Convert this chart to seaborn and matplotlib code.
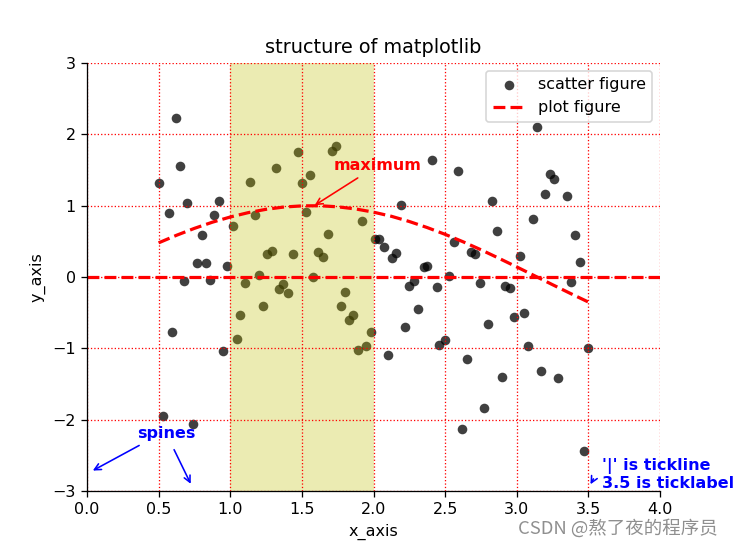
import numpy as np
import matplotlib
matplotlib.use("Agg")
import matplotlib.pyplot as plt
import seaborn as sns

# scatter data
scatter_x = [0.50, 0.53, 0.57, 0.59, 0.62, 0.65, 0.68, 0.70, 0.74, 0.77,
             0.80, 0.83, 0.86, 0.89, 0.92, 0.95, 0.98, 1.02, 1.05, 1.07,
             1.10, 1.14, 1.17, 1.20, 1.23, 1.26, 1.29, 1.32, 1.34, 1.37,
             1.40, 1.44, 1.47, 1.50, 1.53, 1.56, 1.58, 1.61, 1.65, 1.68,
             1.71, 1.74, 1.77, 1.80, 1.83, 1.86, 1.89, 1.92, 1.95, 1.98,
             2.01, 2.04, 2.07, 2.10, 2.13, 2.16, 2.19, 2.22, 2.25, 2.28,
             2.31, 2.35, 2.37, 2.41, 2.44, 2.46, 2.50, 2.53, 2.56, 2.59,
             2.62, 2.65, 2.68, 2.71, 2.74, 2.77, 2.80, 2.83, 2.86, 2.90,
             2.92, 2.95, 2.98, 3.02, 3.05, 3.08, 3.11, 3.14, 3.17, 3.20,
             3.23, 3.26, 3.29, 3.35, 3.38, 3.41, 3.44, 3.47, 3.50]
scatter_y = [1.32, -1.95, 0.90, -0.77, 2.23, 1.56, -0.06, 1.04, -2.06, 0.20,
             0.59, 0.20, -0.04, 0.87, 1.07, -1.04, 0.15, 0.72, -0.87, -0.53,
             -0.08, 1.33, 0.87, 0.03, -0.41, 0.32, 0.36, 1.53, -0.17, -0.10,
             -0.23, 0.32, 1.75, 1.32, 0.91, 1.43, 0.00, 0.35, 0.28, 0.60,
             1.77, 1.84, -0.41, -0.21, -0.60, -0.53, -1.02, 0.79, -0.97, -0.77,
             0.53, 0.53, 0.42, -1.09, 0.27, 0.34, 1.01, -0.70, -0.13, -0.06,
             -0.45, 0.14, 0.15, 1.64, -0.14, -0.95, -0.88, 0.01, 0.49, 1.48,
             -2.13, -1.15, 0.35, 0.32, -0.08, -1.84, -0.66, 1.07, 0.64, -1.40,
             -0.13, -0.16, -0.56, 0.29, -0.50, -0.97, 0.82, 2.10, -1.32, 1.17,
             1.45, 1.37, -1.42, 1.13, -0.07, 0.59, 0.21, -2.44, -1.00]

# curve data
curve_x = [0.5, 0.625, 0.75, 0.875, 1.0, 1.125, 1.25, 1.375, 1.5, 1.625,
           1.75, 1.875, 2.0, 2.125, 2.25, 2.375, 2.5, 2.625, 2.75, 2.875,
           3.0, 3.125, 3.25, 3.375, 3.5]
curve_y = [0.479, 0.585, 0.682, 0.768, 0.841, 0.902, 0.949, 0.981, 0.997, 0.999,
           0.984, 0.954, 0.909, 0.851, 0.778, 0.693, 0.598, 0.494, 0.382, 0.263,
           0.141, 0.017, -0.108, -0.231, -0.351]

x_ticks = [0.0, 0.5, 1.0, 1.5, 2.0, 2.5, 3.0, 3.5, 4.0]
y_ticks = [-3, -2, -1, 0, 1, 2, 3]

DPI = 115.5
fig = plt.figure(figsize=(734 / DPI, 546 / DPI), dpi=DPI)
ax = fig.add_subplot(111)
fig.subplots_adjust(left=87 / 734, right=660 / 734, bottom=1 - 491 / 546, top=1 - 63 / 546)

sns.scatterplot(x=scatter_x, y=scatter_y, ax=ax, color='k', alpha=0.75,
                s=36, linewidth=0, label='scatter figure')
sns.lineplot(x=curve_x, y=curve_y, ax=ax, color='r', linestyle='--',
             linewidth=2, label='plot figure')
ax.axhline(0, color='r', linestyle='--', linewidth=2)
ax.axvspan(1, 2, color='y', alpha=0.3, linewidth=0)

ax.set_xlim(0, 4)
ax.set_ylim(-3, 3)
ax.set_xticks(x_ticks)
ax.set_yticks(y_ticks)
ax.grid(color='r', linestyle=':', linewidth=0.8)
ax.spines['top'].set_visible(False)
ax.spines['right'].set_visible(False)

ax.set_title('structure of matplotlib')
ax.set_xlabel('x_axis')
ax.set_ylabel('y_axis')
ax.legend(loc='upper right')

ax.annotate('maximum', xy=(1.57, 0.98), xytext=(1.72, 1.5), color='r',
            fontweight='bold', arrowprops=dict(arrowstyle='->', color='r'))

ax.text(0.35, -2.26, 'spines', color='b', fontweight='bold')
ax.annotate('', xy=(0.021, -2.735), xytext=(0.384, -2.34),
            arrowprops=dict(arrowstyle='->', color='b'))
ax.annotate('', xy=(0.734, -2.94), xytext=(0.598, -2.38),
            arrowprops=dict(arrowstyle='->', color='b'))

ax.text(3.595, -3.0, "'|' is tickline\n3.5 is ticklabel", color='b',
        fontweight='bold', va='bottom', ha='left', clip_on=False)
ax.annotate('', xy=(3.504, -2.945), xytext=(3.546, -2.79),
            annotation_clip=False,
            arrowprops=dict(arrowstyle='->', color='b'))

fig.text(718 / 734, 1 - 528 / 546, 'CSDN @熬了夜的程序员', ha='right', va='center',
         color='#8f8f8f', fontsize=11.5,
         family=['Noto Sans CJK SC', 'DejaVu Sans'])

fig.savefig('out.png', dpi=DPI)
